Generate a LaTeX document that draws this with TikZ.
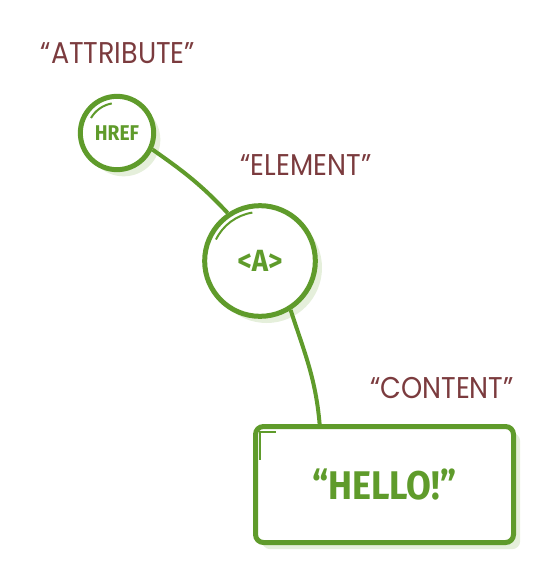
\documentclass[tikz,border=0pt]{standalone}
\usepackage{fontspec}
\usetikzlibrary{positioning,shadows}
\newfontfamily\lblfont[FakeStretch=0.9]{Poppins}
\newfontfamily\tagfont[FakeStretch=0.9]{Fira Sans}
\definecolor{leaf}{HTML}{5F9B2B}
\definecolor{wine}{HTML}{7B3B3E}
\definecolor{haze}{HTML}{E5EFDB}
\tikzset{
  shade/.style={drop shadow={shadow xshift=5pt,shadow yshift=-5pt,fill=haze,opacity=1}},
  bubble/.style={circle,draw=leaf,line width=3.75pt,fill=white,shade,inner sep=0pt,text=leaf,font=\tagfont\bfseries},
  card/.style={rectangle,rounded corners=6pt,draw=leaf,line width=3.75pt,fill=white,shade,inner sep=0pt,text=leaf,font=\tagfont\bfseries\fontsize{30}{30}\selectfont},
  lbl/.style={text=wine,inner sep=0pt,font=\lblfont\fontsize{22.5}{22.5}\selectfont},
  wire/.style={draw=leaf,line width=3pt},
  gloss/.style={draw=leaf,line width=1.5pt}
}

\begin{document}
\begin{tikzpicture}[x=0.75pt,y=0.75pt]
\useasboundingbox (0,0) rectangle (558,-586);
\node[bubble,minimum size=55pt,font=\tagfont\bfseries\fontsize{16}{16}\selectfont] (attr) at (117,-133) {HREF};
\node[bubble,minimum size=83pt,font=\tagfont\bfseries\fontsize{23}{23}\selectfont] (elem) at (260,-261) {<A>};
\node[card,minimum width=193.5pt,minimum height=87pt] (content) at (384.5,-484.5) {“HELLO!”};
\path[wire] (attr.-25) to[out=-35,in=133] (elem.124);
\path[wire] (elem.-58) to[out=-72,in=95] (content.137);
% little glints
\draw[gloss] ([shift={(150:30)}]attr.center) arc[start angle=150,end angle=100,radius=30];
\draw[gloss] ([shift={(154:49)}]elem.center) arc[start angle=154,end angle=99,radius=49];
\draw[gloss] ([shift={(7,-35.5)}]content.north west) -- ++(0,28) -- ++(16,0);
\node[lbl] (attrlbl) at (118,-53) {“ATTRIBUTE”};
\node[lbl] (elemlbl) at (306,-165) {“ELEMENT”};
\node[lbl] (contentlbl) at (442,-388) {“CONTENT”};
\end{tikzpicture}
\end{document}
